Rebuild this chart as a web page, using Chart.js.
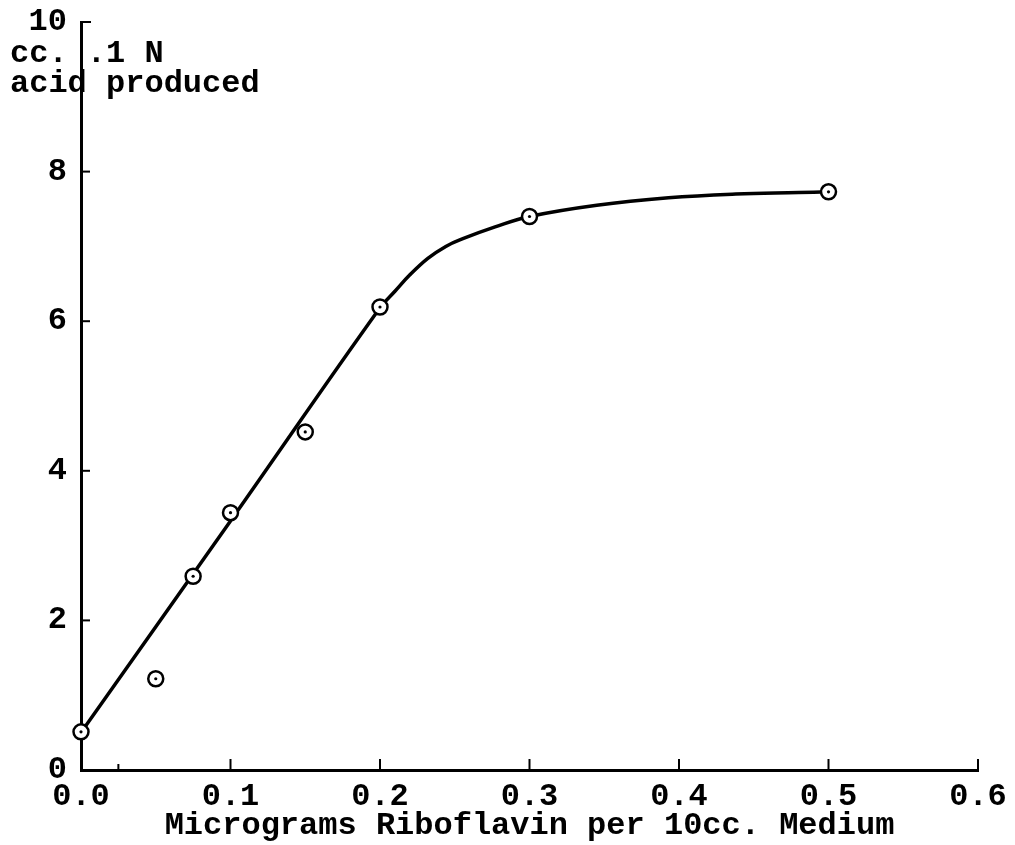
<!DOCTYPE html>
<html>
<head>
<meta charset="utf-8">
<title>Riboflavin assay</title>
<script src="https://cdn.jsdelivr.net/npm/chart.js@4.4.1/dist/chart.umd.min.js"></script>
<style>
  body { margin: 0; background: #fff; }
  canvas { display: block; }
</style>
</head>
<body>
<canvas id="myChart" width="1015" height="845"></canvas>
<script>
// measured points (circles)
const obsX = [0, 0.05, 0.075, 0.1, 0.15, 0.2, 0.3, 0.5];
const obsY = [0.51, 1.22, 2.59, 3.44, 4.52, 6.19, 7.40, 7.73];

// drawn curve
const curveX = [0, 0.1, 0.2, 0.21, 0.22, 0.232, 0.244, 0.255, 0.277, 0.3, 0.345, 0.393, 0.438, 0.48, 0.5];
const curveY = [0.5, 3.33, 6.18, 6.40, 6.62, 6.84, 7.00, 7.10, 7.26, 7.40, 7.55, 7.65, 7.70, 7.72, 7.73];

// axis tick marks (drawn inside the axes)
const xMarks = [0.025, 0.1, 0.2, 0.3, 0.4, 0.5, 0.6];
const yMarks = [2, 4, 6, 8, 10];

const yTitle = ['cc. .1 N', 'acid produced'];
const xTitle = 'Micrograms Riboflavin per 10cc. Medium';

const FONT = "'Liberation Mono', 'DejaVu Sans Mono', monospace";

const toPts = (xs, ys) => xs.map((v, i) => ({ x: v, y: ys[i] }));

// inside ticks + the y-axis caption in the corner
const extras = {
    id: 'extras',
    afterDraw(chart) {
        const { ctx, chartArea: a, scales: { x, y } } = chart;
        ctx.save();
        ctx.strokeStyle = '#000';
        ctx.lineWidth = 2;
        xMarks.forEach(v => {
            const px = x.getPixelForValue(v);
            ctx.beginPath();
            ctx.moveTo(px, a.bottom);
            ctx.lineTo(px, a.bottom - (v < 0.05 ? 6 : 11));
            ctx.stroke();
        });
        yMarks.forEach(v => {
            const py = y.getPixelForValue(v);
            ctx.beginPath();
            ctx.moveTo(a.left, py);
            ctx.lineTo(a.left + (v === 10 ? 10 : 9), py);
            ctx.stroke();
        });
        ctx.fillStyle = '#000';
        ctx.font = 'bold 32px ' + FONT;
        ctx.textAlign = 'left';
        ctx.textBaseline = 'alphabetic';
        ctx.fillText(yTitle[0], 10, 62);
        ctx.fillText(yTitle[1], 10, 92);
        ctx.restore();
    }
};

let myChart = document.getElementById('myChart').getContext('2d');

let riboChart = new Chart(myChart, {
    type: 'scatter',
    data: {
        datasets: [
            {
                // center dots of the circles
                data: toPts(obsX, obsY),
                pointRadius: 1.6,
                pointBackgroundColor: '#000',
                pointBorderWidth: 0,
                clip: false,
                order: 0
            },
            {
                data: toPts(obsX, obsY),
                pointRadius: 7.5,
                pointBackgroundColor: '#fff',
                pointBorderColor: '#000',
                pointBorderWidth: 2.5,
                clip: false,
                order: 1
            },
            {
                type: 'line',
                data: toPts(curveX, curveY),
                borderColor: '#000',
                borderWidth: 3.5,
                pointRadius: 0,
                fill: false,
                tension: 0.4,
                order: 2
            }
        ]
    },
    plugins: [extras],
    options: {
        responsive: false,
        animation: false,
        events: [],
        layout: {
            padding: { left: 0, top: 22, right: 37, bottom: 0 }
        },
        plugins: {
            legend: { display: false },
            tooltip: { enabled: false }
        },
        scales: {
            x: {
                type: 'linear',
                min: 0,
                max: 0.6,
                grid: { display: false, drawTicks: false },
                border: { display: true, color: '#000', width: 3 },
                ticks: {
                    stepSize: 0.1,
                    padding: 8,
                    color: '#000',
                    maxRotation: 0,
                    font: { family: FONT, size: 32, weight: 'bold' },
                    callback: v => v.toFixed(1)
                },
                title: {
                    display: true,
                    text: xTitle,
                    color: '#000',
                    padding: { top: 0, bottom: 0 },
                    font: { family: FONT, size: 32, weight: 'bold' }
                },
                afterFit: s => { s.height = 75; s.paddingLeft = 0; s.paddingRight = 0; }
            },
            y: {
                type: 'linear',
                min: 0,
                max: 10,
                grid: { display: false, drawTicks: false },
                border: { display: true, color: '#000', width: 3 },
                ticks: {
                    stepSize: 2,
                    padding: 14,
                    color: '#000',
                    font: { family: FONT, size: 32, weight: 'bold' }
                },
                afterFit: s => { s.width = 81; s.paddingTop = 0; s.paddingBottom = 0; }
            }
        }
    }
});
</script>
</body>
</html>
